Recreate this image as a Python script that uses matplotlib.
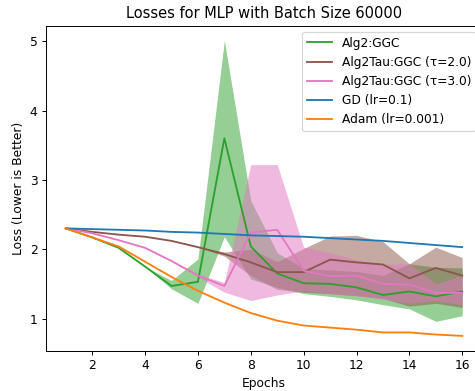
import numpy as np
import matplotlib
matplotlib.use('Agg')
from matplotlib import pyplot as plt

epochs = [1, 2, 3, 4, 5, 6, 7, 8, 9, 10, 11, 12, 13, 14, 15, 16]

ggc = [2.30, 2.17, 2.02, 1.75, 1.47, 1.53, 3.60, 2.04, 1.65, 1.51, 1.50, 1.45, 1.34, 1.39, 1.32, 1.39]
ggc_lo = [2.30, 2.17, 2.02, 1.75, 1.43, 1.22, 2.18, 1.57, 1.45, 1.36, 1.32, 1.27, 1.20, 1.14, 0.96, 1.04]
ggc_hi = [2.30, 2.17, 2.02, 1.75, 1.55, 1.86, 5.01, 2.70, 1.95, 1.72, 1.70, 1.68, 1.62, 1.79, 1.74, 1.73]

tau2 = [2.30, 2.25, 2.21, 2.18, 2.12, 2.03, 1.93, 1.81, 1.67, 1.67, 1.85, 1.81, 1.78, 1.58, 1.73, 1.62]
tau2_lo = [2.30, 2.25, 2.21, 2.18, 2.12, 2.03, 1.90, 1.62, 1.42, 1.38, 1.36, 1.33, 1.29, 1.18, 1.22, 1.16]
tau2_hi = [2.30, 2.25, 2.21, 2.18, 2.12, 2.03, 1.96, 2.00, 1.82, 2.01, 2.19, 2.20, 2.11, 1.79, 2.03, 1.88]

tau3 = [2.30, 2.23, 2.13, 2.02, 1.83, 1.62, 1.47, 2.24, 2.28, 1.69, 1.61, 1.62, 1.50, 1.49, 1.37, 1.37]
tau3_lo = [2.30, 2.23, 2.13, 2.02, 1.83, 1.60, 1.38, 1.26, 1.34, 1.40, 1.36, 1.33, 1.28, 1.22, 1.26, 1.20]
tau3_hi = [2.30, 2.23, 2.13, 2.02, 1.83, 1.64, 1.52, 3.22, 3.22, 2.03, 1.95, 1.85, 1.78, 1.79, 1.50, 1.62]

gd = [2.30, 2.29, 2.28, 2.27, 2.25, 2.24, 2.22, 2.20, 2.19, 2.18, 2.16, 2.14, 2.12, 2.09, 2.06, 2.03]
adam = [2.30, 2.17, 2.04, 1.82, 1.60, 1.40, 1.23, 1.08, 0.97, 0.90, 0.87, 0.84, 0.80, 0.80, 0.77, 0.75]


def main():
    fig = plt.figure(figsize=(475 / 88, 391 / 88), dpi=88)
    ax = fig.add_axes([0.0968, 0.1031, 0.918, 0.8312])

    bands = [
        ('Alg2:GGC', ggc, ggc_lo, ggc_hi, 'tab:green'),
        ('Alg2Tau:GGC (\u03c4=2.0)', tau2, tau2_lo, tau2_hi, 'tab:brown'),
        ('Alg2Tau:GGC (\u03c4=3.0)', tau3, tau3_lo, tau3_hi, 'tab:pink'),
    ]
    for label, mean, lo, hi, color in bands:
        ax.plot(epochs, mean, color=color, label=label)
        ax.fill_between(epochs, lo, hi, color=color, alpha=0.5, linewidth=0)

    ax.plot(epochs, gd, color='tab:blue', label='GD (lr=0.1)')
    ax.plot(epochs, adam, color='tab:orange', label='Adam (lr=0.001)')

    ax.set_title('Losses for MLP with Batch Size 60000')
    ax.set_xlabel('Epochs')
    ax.set_ylabel('Loss (Lower is Better)')
    ax.legend(loc='upper right')
    fig.savefig('out.png', dpi=88)


if __name__ == '__main__':
    main()
